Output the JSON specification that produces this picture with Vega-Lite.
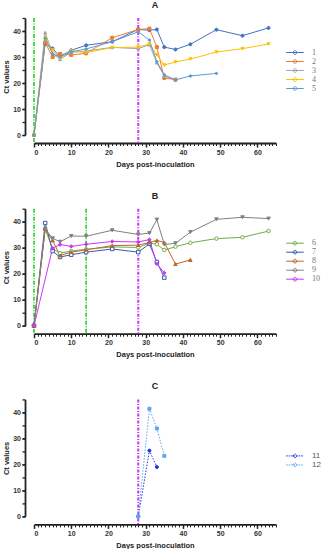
{
  "$schema": "https://vega.github.io/schema/vega-lite/v6.json",
  "padding": {"left": 2, "top": 1, "right": 0, "bottom": 0},
  "config": {
    "view": {"stroke": null},
    "font": "Liberation Sans",
    "axis": {"grid": false, "domainColor": "#222", "tickColor": "#222", "labelColor": "#333", "labelFont": "Liberation Sans", "labelFontWeight": "bold", "labelFontSize": 7, "titleFont": "Liberation Sans", "titleFontWeight": "bold", "titleFontSize": 7.5, "titleColor": "#222"},
    "title": {"fontSize": 9, "font": "Liberation Sans", "fontWeight": "bold", "color": "#222", "offset": 7},
    "legend": {"padding": 0, "symbolSize": 64, "symbolStrokeWidth": 1, "labelOffset": 12.5, "rowPadding": 0, "labelFontSize": 8, "labelColor": "#777", "labelFont": "Liberation Serif"}
  },
  "resolve": {"scale": {"color": "independent", "shape": "independent", "fill": "independent", "stroke": "independent"}},
  "bounds": "flush",
  "spacing": 73.7,
  "datasets": {
    "A": [
      {"s":"1","day":0,"ct":0},{"s":"1","day":3,"ct":35.1},{"s":"1","day":5,"ct":33.3},{"s":"1","day":7,"ct":30.1},{"s":"1","day":10,"ct":32.6},{"s":"1","day":14,"ct":34.5},{"s":"1","day":21,"ct":35.9},{"s":"1","day":28,"ct":40.6},{"s":"1","day":31,"ct":40.3},{"s":"1","day":33,"ct":40.6},{"s":"1","day":35,"ct":33.8},{"s":"1","day":38,"ct":32.9},{"s":"1","day":42,"ct":34.9},{"s":"1","day":49,"ct":40.5},{"s":"1","day":56,"ct":38.2},{"s":"1","day":63,"ct":41.2},
      {"s":"2","day":0,"ct":0},{"s":"2","day":3,"ct":35.5},{"s":"2","day":5,"ct":30},{"s":"2","day":7,"ct":31.2},{"s":"2","day":10,"ct":30.8},{"s":"2","day":14,"ct":31.4},{"s":"2","day":21,"ct":37.4},{"s":"2","day":28,"ct":40.6},{"s":"2","day":31,"ct":40.9},{"s":"2","day":33,"ct":33.8},{"s":"2","day":35,"ct":21.9},{"s":"2","day":38,"ct":21.3},
      {"s":"3","day":0,"ct":0},{"s":"3","day":3,"ct":39.4},{"s":"3","day":5,"ct":31.4},{"s":"3","day":7,"ct":29.1},{"s":"3","day":10,"ct":31.8},{"s":"3","day":14,"ct":32.3},{"s":"3","day":21,"ct":33.7},{"s":"3","day":28,"ct":33.2},{"s":"3","day":31,"ct":34.7},{"s":"3","day":33,"ct":27.8},{"s":"3","day":35,"ct":22.7},{"s":"3","day":38,"ct":21.2},
      {"s":"4","day":0,"ct":0},{"s":"4","day":3,"ct":37.6},{"s":"4","day":5,"ct":32.7},{"s":"4","day":7,"ct":29.5},{"s":"4","day":10,"ct":32.3},{"s":"4","day":14,"ct":31.7},{"s":"4","day":21,"ct":33.6},{"s":"4","day":28,"ct":33.8},{"s":"4","day":31,"ct":35.0},{"s":"4","day":33,"ct":30.8},{"s":"4","day":35,"ct":26.9},{"s":"4","day":38,"ct":28.1},{"s":"4","day":42,"ct":29.2},{"s":"4","day":49,"ct":31.9},{"s":"4","day":56,"ct":33.2},{"s":"4","day":63,"ct":35},
      {"s":"5","day":0,"ct":0},{"s":"5","day":3,"ct":37.2},{"s":"5","day":5,"ct":31.2},{"s":"5","day":7,"ct":30.1},{"s":"5","day":10,"ct":32},{"s":"5","day":14,"ct":33.1},{"s":"5","day":21,"ct":35.9},{"s":"5","day":28,"ct":39.7},{"s":"5","day":31,"ct":36.5},{"s":"5","day":33,"ct":28.2},{"s":"5","day":35,"ct":23.1},{"s":"5","day":38,"ct":21.2},{"s":"5","day":42,"ct":22.7},{"s":"5","day":49,"ct":23.7}
    ],
    "B": [
      {"s":"6","day":0,"ct":0},{"s":"6","day":3,"ct":37.2},{"s":"6","day":5,"ct":29.6},{"s":"6","day":7,"ct":27.9},{"s":"6","day":10,"ct":28.7},{"s":"6","day":14,"ct":29.4},{"s":"6","day":21,"ct":30.3},{"s":"6","day":28,"ct":30.1},{"s":"6","day":31,"ct":31.8},{"s":"6","day":33,"ct":31.3},{"s":"6","day":35,"ct":29.1},{"s":"6","day":38,"ct":30.4},{"s":"6","day":42,"ct":31.9},{"s":"6","day":49,"ct":33.5},{"s":"6","day":56,"ct":34},{"s":"6","day":63,"ct":36.4},
      {"s":"7","day":0,"ct":0},{"s":"7","day":3,"ct":39.5},{"s":"7","day":5,"ct":28.7},{"s":"7","day":7,"ct":26.4},{"s":"7","day":10,"ct":27.3},{"s":"7","day":14,"ct":28.3},{"s":"7","day":21,"ct":29.5},{"s":"7","day":28,"ct":28.3},{"s":"7","day":31,"ct":31.5},{"s":"7","day":33,"ct":24.5},{"s":"7","day":35,"ct":18.5},
      {"s":"8","day":0,"ct":0},{"s":"8","day":3,"ct":37.2},{"s":"8","day":5,"ct":32.8},{"s":"8","day":7,"ct":27},{"s":"8","day":10,"ct":28.3},{"s":"8","day":14,"ct":29.2},{"s":"8","day":21,"ct":30.8},{"s":"8","day":28,"ct":31},{"s":"8","day":31,"ct":32},{"s":"8","day":33,"ct":32.8},{"s":"8","day":35,"ct":32},{"s":"8","day":38,"ct":23.7},{"s":"8","day":42,"ct":25.3},
      {"s":"9","day":0,"ct":0},{"s":"9","day":3,"ct":37.2},{"s":"9","day":5,"ct":33.6},{"s":"9","day":7,"ct":32.3},{"s":"9","day":10,"ct":34.5},{"s":"9","day":14,"ct":34.4},{"s":"9","day":21,"ct":36.7},{"s":"9","day":28,"ct":35.1},{"s":"9","day":31,"ct":35.6},{"s":"9","day":33,"ct":40.8},{"s":"9","day":35,"ct":31.2},{"s":"9","day":38,"ct":31.7},{"s":"9","day":42,"ct":36},{"s":"9","day":49,"ct":40.9},{"s":"9","day":56,"ct":41.7},{"s":"9","day":63,"ct":41.2},
      {"s":"10","day":0,"ct":0},{"s":"10","day":5,"ct":29.8},{"s":"10","day":7,"ct":31.2},{"s":"10","day":10,"ct":30.5},{"s":"10","day":14,"ct":31.3},{"s":"10","day":21,"ct":32.4},{"s":"10","day":28,"ct":32.2},{"s":"10","day":31,"ct":33.1},{"s":"10","day":33,"ct":23.8},{"s":"10","day":35,"ct":20.3}
    ],
    "C": [
      {"s":"11","day":28,"ct":0},{"s":"11","day":31,"ct":25.3},{"s":"11","day":33,"ct":19},
      {"s":"12","day":28,"ct":0},{"s":"12","day":31,"ct":41.4},{"s":"12","day":33,"ct":33.8},{"s":"12","day":35,"ct":23.3}
    ],
    "inocA": [{"day":0}],
    "inocB": [{"day":0},{"day":14}],
    "chal": [{"day":28}]
  },
  "vconcat": [
    {
      "title": "A",
      "width": 242, "height": 117,
      "resolve": {"axis": {"x": "independent", "y": "independent"}},
      "layer": [
        {
          "data": {"name": "inocA"},
          "mark": {"type": "rule", "color": "#22cc22", "strokeWidth": 1.6, "strokeDash": [4, 1.5, 1, 1.5]},
          "encoding": {
            "x": {"field": "day", "type": "quantitative", "scale": {"domain": [0, 65], "nice": false}, "axis": {"orient": "bottom", "offset": 8, "values": [0,1,2,3,4,5,6,7,8,9,10,11,12,13,14,15,16,17,18,19,20,21,22,23,24,25,26,27,28,29,30,31,32,33,34,35,36,37,38,39,40,41,42,43,44,45,46,47,48,49,50,51,52,53,54,55,56,57,58,59,60,61,62,63,64,65], "tickSize": 2.5, "tickWidth": 1, "labels": false, "domain": false, "title": null}},
            "y": {"datum": 45, "type": "quantitative", "scale": {"domain": [0, 45], "nice": false}, "axis": {"orient": "left", "offset": 9, "values": [0,5,10,15,20,25,30,35,40,45], "tickSize": 3, "tickWidth": 1.3, "labels": false, "domain": false, "title": null}},
            "y2": {"datum": -3.2}
          }
        },
        {
          "data": {"name": "chal"},
          "mark": {"type": "rule", "color": "#cc33ff", "strokeWidth": 2, "strokeDash": [3, 1.5, 1, 1.5]},
          "encoding": {
            "x": {"field": "day", "type": "quantitative", "axis": null},
            "y": {"datum": 45, "type": "quantitative", "axis": null},
            "y2": {"datum": -3.2}
          }
        },
        {
          "data": {"name": "A"},
          "mark": {"type": "line", "strokeWidth": 1},
          "encoding": {
            "x": {"field": "day", "type": "quantitative", "axis": {"orient": "bottom", "offset": 8, "values": [0,10,20,30,40,50,60], "tickSize": 4, "tickWidth": 1.5, "domainWidth": 1.8, "labelPadding": 1, "title": "Days post-inoculation", "titlePadding": 5}},
            "y": {"field": "ct", "type": "quantitative", "axis": {"orient": "left", "offset": 9, "values": [0,10,20,30,40], "tickSize": 3, "tickWidth": 1.5, "domainWidth": 1.8, "labelPadding": 1.5, "title": "Ct values", "titlePadding": 2}},
            "color": {"field": "s", "type": "nominal", "scale": {"domain": ["1","2","3","4","5"], "range": ["#4472c4","#ed7d31","#a5a5a5","#ffc000","#5b9bd5"]}, "legend": {"title": null, "orient": "none", "legendX": 256.5, "legendY": 30, "symbolType": "M-2.2,0L2.2,0M-0.45,0A0.45,0.45,0,1,1,0.45,0A0.45,0.45,0,1,1,-0.45,0Z"}}
          }
        },
        {
          "data": {"name": "A"},
          "mark": {"type": "point", "filled": false, "opacity": 1, "strokeWidth": 1, "size": 9},
          "encoding": {
            "x": {"field": "day", "type": "quantitative", "axis": null},
            "y": {"field": "ct", "type": "quantitative", "axis": null},
            "stroke": {"field": "s", "type": "nominal", "scale": {"range": ["#4472c4","#ed7d31","#a5a5a5","#ffc000","#5b9bd5"]}, "legend": null},
            "fill": {"field": "s", "type": "nominal", "scale": {"range": ["#4472c4","#ed7d31","#a5a5a5","#ffc000","#5b9bd5"]}, "legend": null},
            "shape": {"field": "s", "type": "nominal", "scale": {"range": ["circle","square","triangle-up","triangle-down","diamond"]}, "legend": null}
          }
        }
      ]
    },
    {
      "title": "B",
      "width": 242, "height": 117,
      "resolve": {"axis": {"x": "independent", "y": "independent"}},
      "layer": [
        {
          "data": {"name": "inocB"},
          "mark": {"type": "rule", "color": "#22cc22", "strokeWidth": 1.6, "strokeDash": [4, 1.5, 1, 1.5]},
          "encoding": {
            "x": {"field": "day", "type": "quantitative", "scale": {"domain": [0, 65], "nice": false}, "axis": {"orient": "bottom", "offset": 8, "values": [0,1,2,3,4,5,6,7,8,9,10,11,12,13,14,15,16,17,18,19,20,21,22,23,24,25,26,27,28,29,30,31,32,33,34,35,36,37,38,39,40,41,42,43,44,45,46,47,48,49,50,51,52,53,54,55,56,57,58,59,60,61,62,63,64,65], "tickSize": 2.5, "tickWidth": 1, "labels": false, "domain": false, "title": null}},
            "y": {"datum": 45, "type": "quantitative", "scale": {"domain": [0, 45], "nice": false}, "axis": {"orient": "left", "offset": 9, "values": [0,5,10,15,20,25,30,35,40,45], "tickSize": 3, "tickWidth": 1.3, "labels": false, "domain": false, "title": null}},
            "y2": {"datum": -3.2}
          }
        },
        {
          "data": {"name": "chal"},
          "mark": {"type": "rule", "color": "#cc33ff", "strokeWidth": 2, "strokeDash": [3, 1.5, 1, 1.5]},
          "encoding": {
            "x": {"field": "day", "type": "quantitative", "axis": null},
            "y": {"datum": 45, "type": "quantitative", "axis": null},
            "y2": {"datum": -3.2}
          }
        },
        {
          "data": {"name": "B"},
          "mark": {"type": "line", "strokeWidth": 1},
          "encoding": {
            "x": {"field": "day", "type": "quantitative", "axis": {"orient": "bottom", "offset": 8, "values": [0,10,20,30,40,50,60], "tickSize": 4, "tickWidth": 1.5, "domainWidth": 1.8, "labelPadding": 1, "title": "Days post-inoculation", "titlePadding": 5}},
            "y": {"field": "ct", "type": "quantitative", "axis": {"orient": "left", "offset": 9, "values": [0,10,20,30,40], "tickSize": 3, "tickWidth": 1.5, "domainWidth": 1.8, "labelPadding": 1.5, "title": "Ct values", "titlePadding": 2}},
            "color": {"field": "s", "type": "nominal", "scale": {"domain": ["6","7","8","9","10"], "range": ["#70ad47","#3b5ba5","#c0652a","#808080","#cc33ff"]}, "legend": {"title": null, "orient": "none", "legendX": 256.5, "legendY": 30, "symbolType": "M-2.2,0L2.2,0M-0.45,0A0.45,0.45,0,1,1,0.45,0A0.45,0.45,0,1,1,-0.45,0Z"}}
          }
        },
        {
          "data": {"name": "B"},
          "mark": {"type": "point", "filled": false, "opacity": 1, "strokeWidth": 1, "size": 12},
          "encoding": {
            "x": {"field": "day", "type": "quantitative", "axis": null},
            "y": {"field": "ct", "type": "quantitative", "axis": null},
            "stroke": {"field": "s", "type": "nominal", "scale": {"range": ["#cc33ff","#70ad47","#3b5ba5","#c0652a","#808080"]}, "legend": null},
            "fill": {"field": "s", "type": "nominal", "scale": {"range": ["#cc33ff","#ffffff","#ffffff","#c0652a","#808080"]}, "legend": null},
            "shape": {"field": "s", "type": "nominal", "scale": {"range": ["diamond","circle","square","triangle-up","triangle-down"]}, "legend": null}
          }
        }
      ]
    },
    {
      "title": "C",
      "width": 242, "height": 117,
      "resolve": {"axis": {"x": "independent", "y": "independent"}},
      "layer": [
        {
          "data": {"name": "chal"},
          "mark": {"type": "rule", "color": "#cc33ff", "strokeWidth": 2, "strokeDash": [3, 1.5, 1, 1.5]},
          "encoding": {
            "x": {"field": "day", "type": "quantitative", "scale": {"domain": [0, 65], "nice": false}, "axis": {"orient": "bottom", "offset": 8, "values": [0,1,2,3,4,5,6,7,8,9,10,11,12,13,14,15,16,17,18,19,20,21,22,23,24,25,26,27,28,29,30,31,32,33,34,35,36,37,38,39,40,41,42,43,44,45,46,47,48,49,50,51,52,53,54,55,56,57,58,59,60,61,62,63,64,65], "tickSize": 2.5, "tickWidth": 1, "labels": false, "domain": false, "title": null}},
            "y": {"datum": 45, "type": "quantitative", "scale": {"domain": [0, 45], "nice": false}, "axis": {"orient": "left", "offset": 9, "values": [0,5,10,15,20,25,30,35,40,45], "tickSize": 3, "tickWidth": 1.3, "labels": false, "domain": false, "title": null}},
            "y2": {"datum": -3.2}
          }
        },
        {
          "data": {"name": "C"},
          "mark": {"type": "line", "strokeWidth": 1, "strokeDash": [1.5, 1.5]},
          "encoding": {
            "x": {"field": "day", "type": "quantitative", "axis": {"orient": "bottom", "offset": 8, "values": [0,10,20,30,40,50,60], "tickSize": 4, "tickWidth": 1.5, "domainWidth": 1.8, "labelPadding": 1, "title": "Days post-inoculation", "titlePadding": 5}},
            "y": {"field": "ct", "type": "quantitative", "axis": {"orient": "left", "offset": 9, "values": [0,10,20,30,40], "tickSize": 3, "tickWidth": 1.5, "domainWidth": 1.8, "labelPadding": 1.5, "title": "Ct values", "titlePadding": 2}},
            "color": {"field": "s", "type": "nominal", "scale": {"domain": ["11","12"], "range": ["#2233dd","#5aa8f0"]}, "legend": {"title": null, "orient": "none", "legendX": 256.5, "legendY": 52, "labelFont": "Liberation Sans", "labelColor": "#555", "symbolDash": [1.5, 1], "symbolType": "M-2.2,0L2.2,0M-0.45,0A0.45,0.45,0,1,1,0.45,0A0.45,0.45,0,1,1,-0.45,0Z"}}
          }
        },
        {
          "data": {"name": "C"},
          "mark": {"type": "point", "filled": false, "opacity": 1, "strokeWidth": 1, "size": 9},
          "encoding": {
            "x": {"field": "day", "type": "quantitative", "axis": null},
            "y": {"field": "ct", "type": "quantitative", "axis": null},
            "stroke": {"field": "s", "type": "nominal", "scale": {"range": ["#2233dd","#5aa8f0"]}, "legend": null},
            "fill": {"field": "s", "type": "nominal", "scale": {"range": ["#2233dd","#5aa8f0"]}, "legend": null},
            "shape": {"field": "s", "type": "nominal", "scale": {"range": ["circle","square"]}, "legend": null}
          }
        }
      ]
    }
  ]
}
